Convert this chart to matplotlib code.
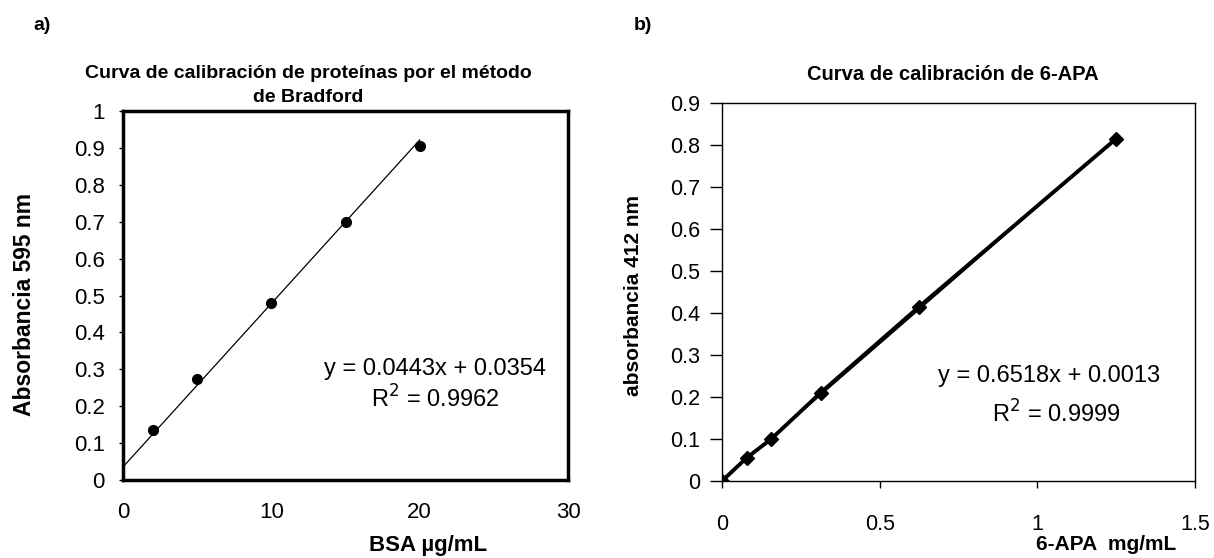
import numpy as np
from matplotlib import pyplot as plt

plt.rcParams['font.family'] = ['Liberation Sans', 'DejaVu Sans']

# a) Bradford
bsa_x = [2, 5, 10, 15, 20]
bsa_y = [0.135, 0.275, 0.48, 0.70, 0.905]
fit_a = (0.0443, 0.0354)

# b) 6-APA
apa_x = [0, 0.078, 0.156, 0.3125, 0.625, 1.25]
apa_y = [0.0, 0.055, 0.10, 0.21, 0.415, 0.815]
fit_b = (0.6518, 0.0013)

W, H = 1214, 558
fig = plt.figure(figsize=(W / 100, H / 100), dpi=100)

def px(x, y):
    return x / W, 1 - y / H

# panel a
ax1 = fig.add_axes([123 / W, 1 - 480 / H, 445 / W, 369 / H])
xx = np.array([0, 20])
ax1.plot(xx, fit_a[0] * xx + fit_a[1], color='black', lw=0.9)
ax1.plot(bsa_x, bsa_y, 'o', color='black', ms=7, ls='none')
ax1.set_xlim(0, 30)
ax1.set_ylim(0, 1)
ax1.set_xticks([0, 10, 20, 30])
ax1.set_yticks(np.arange(0, 1.01, 0.1))
ax1.set_yticklabels(['0', '0.1', '0.2', '0.3', '0.4', '0.5', '0.6', '0.7', '0.8', '0.9', '1'])
ax1.tick_params(axis='y', direction='out', length=3, width=1, pad=10, labelsize=16)
ax1.tick_params(axis='x', length=0, pad=16, labelsize=16)
for s in ax1.spines.values():
    s.set_linewidth(2.5)

# panel b
ax2 = fig.add_axes([722 / W, 1 - 481 / H, 473 / W, 378 / H])
xx = np.array([0, 1.25])
ax2.plot(xx, fit_b[0] * xx + fit_b[1], color='black', lw=1.2)
ax2.plot(apa_x, apa_y, 'D-', color='black', ms=7.5, lw=2.8)
ax2.set_xlim(0, 1.5)
ax2.set_ylim(0, 0.9)
ax2.set_xticks([0, 0.5, 1, 1.5])
ax2.set_xticklabels(['0', '0.5', '1', '1.5'])
ax2.set_yticks(np.arange(0, 0.91, 0.1))
ax2.set_yticklabels(['0', '0.1', '0.2', '0.3', '0.4', '0.5', '0.6', '0.7', '0.8', '0.9'])
ax2.tick_params(axis='y', direction='out', length=9, width=1, pad=7, labelsize=15.5)
ax2.tick_params(axis='x', direction='out', length=5, width=1, pad=19, labelsize=15.5)
for s in ax2.spines.values():
    s.set_linewidth(1.0)

# texts
fig.text(*px(42, 26), 'a)', fontsize=14, fontweight='bold', ha='center', va='center')
fig.text(*px(643, 25), 'b)', fontsize=14, fontweight='bold', ha='center', va='center')

fig.text(*px(308, 73), 'Curva de calibración de proteínas por el método',
         fontsize=14, fontweight='bold', ha='center', va='center')
fig.text(*px(308, 98), 'de Bradford',
         fontsize=14, fontweight='bold', ha='center', va='center')
fig.text(*px(953, 75), 'Curva de calibración de 6-APA',
         fontsize=14.5, fontweight='bold', ha='center', va='center')

fig.text(*px(25, 304), 'Absorbancia 595 nm', fontsize=16.5, fontweight='bold',
         rotation=90, ha='center', va='center')
fig.text(*px(634, 295), 'absorbancia 412 nm', fontsize=15, fontweight='bold',
         rotation=90, ha='center', va='center')

fig.text(*px(428, 546), 'BSA µg/mL', fontsize=16, fontweight='bold', ha='center', va='center')
fig.text(*px(1106, 545), '6-APA  mg/mL', fontsize=15, fontweight='bold', ha='center', va='center')

fig.text(*px(435, 369), 'y = 0.0443x + 0.0354', fontsize=17, ha='center', va='center')
fig.text(*px(435, 399), 'R$^2$ = 0.9962', fontsize=17, ha='center', va='center')
fig.text(*px(1049, 376), 'y = 0.6518x + 0.0013', fontsize=17, ha='center', va='center')
fig.text(*px(1056, 414), 'R$^2$ = 0.9999', fontsize=17, ha='center', va='center')

fig.savefig('out.png', dpi=100)
